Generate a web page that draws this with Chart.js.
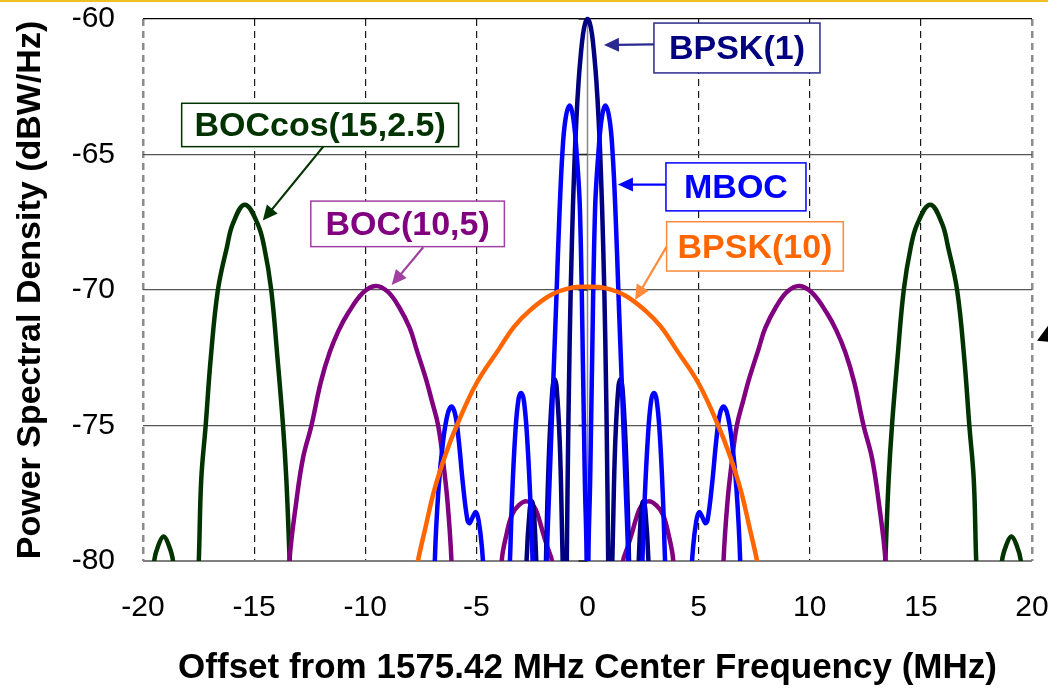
<!DOCTYPE html>
<html>
<head>
<meta charset="utf-8">
<script src="https://cdn.jsdelivr.net/npm/chart.js@4.4.1/dist/chart.umd.min.js"></script>
<style>
  html, body { margin: 0; padding: 0; background: #fff; overflow: hidden; }
  #wrap { position: relative; width: 1048px; height: 692px; }
</style>
</head>
<body>
<div id="wrap"><canvas id="psdChart"></canvas></div>
<script>
// Frequency offsets (MHz) and PSD values (dBW/Hz)
var bpsk1Freq = [-2.95, -2.75, -2.6, -2.5, -2.4, -2.25, -2.12, -2.05, -1.97, -1.88, -1.75, -1.6, -1.5, -1.4, -1.25, -1.15, -1.08, -1.02, -0.95, -0.9, -0.8, -0.7, -0.6, -0.5, -0.4, -0.3, -0.2, -0.1, 0,
    0.1, 0.2, 0.3, 0.4, 0.5, 0.6, 0.7, 0.8, 0.9, 0.95, 1.02, 1.08, 1.15, 1.25, 1.4, 1.5, 1.6, 1.75, 1.88, 1.97, 2.05, 2.12, 2.25, 2.4, 2.5, 2.6, 2.75, 2.95];
var bpsk1Psd = [-88, -80.2, -78.1, -77.8, -78.3, -81.5, -88, -95, -86, -80.5, -76.4, -73.9, -73.3, -73.5, -75.6, -78.8, -82, -95, -82.3, -77.5, -71.8, -68.2, -65.6, -63.7, -62.3, -61.3, -60.55, -60.14, -60,
    -60.14, -60.55, -61.3, -62.3, -63.7, -65.6, -68.2, -71.8, -77.5, -82.3, -95, -82, -78.8, -75.6, -73.5, -73.3, -73.9, -76.4, -80.5, -86, -95, -88, -81.5, -78.3, -77.8, -78.1, -80.2, -88];

var mbocFreq = [-7.1, -6.87, -6.7, -6.5, -6.3, -6.12, -5.95, -5.8, -5.6, -5.4, -5.3, -5.15, -5.02, -4.9, -4.75, -4.6, -4.3, -4.1, -3.85, -3.6, -3.49, -3.4, -3.25, -3.1, -2.98, -2.86, -2.72, -2.58, -2.47, -2.35, -2.1, -1.9, -1.84, -1.7, -1.55, -1.4, -1.26, -1.13, -1.0, -0.82, -0.65, -0.49, -0.34, -0.19, -0.12, -0.04, 0,
    0.04, 0.12, 0.19, 0.34, 0.49, 0.65, 0.82, 1.0, 1.13, 1.26, 1.4, 1.55, 1.7, 1.84, 1.9, 2.1, 2.35, 2.47, 2.58, 2.72, 2.86, 2.98, 3.1, 3.25, 3.4, 3.49, 3.6, 3.85, 4.1, 4.3, 4.6, 4.75, 4.9, 5.02, 5.15, 5.3, 5.4, 5.6, 5.8, 5.95, 6.12, 6.3, 6.5, 6.7, 6.87, 7.1];
var mbocPsd = [-88, -80, -77.3, -75.6, -74.6, -74.3, -74.6, -75.5, -77.2, -78.5, -78.6, -78.35, -78.2, -78.5, -79.5, -81.5, -88, -95, -88, -82, -80, -77.8, -75.3, -74.0, -73.8, -74.1, -75.4, -77.6, -80, -84, -95, -82, -80, -76.9, -73.6, -70.3, -67.15, -64.95, -63.75, -63.2, -63.6, -64.95, -67.05, -73.5, -77, -80, -92,
    -80, -77, -73.5, -67.05, -64.95, -63.6, -63.2, -63.75, -64.95, -67.15, -70.3, -73.6, -76.9, -80, -82, -95, -84, -80, -77.6, -75.4, -74.1, -73.8, -74.0, -75.3, -77.8, -80, -82, -88, -95, -88, -81.5, -79.5, -78.5, -78.2, -78.35, -78.6, -78.5, -77.2, -75.5, -74.6, -74.3, -74.6, -75.6, -77.3, -80, -88];

var boc105Freq = [-14.0, -13.41, -13.1, -12.8, -12.42, -12.0, -11.6, -11.2, -10.77, -10.1, -9.53, -9.0, -8.5, -8.0, -7.69, -7.3, -7.0, -6.72, -6.5, -6.3, -6.12, -5.9, -5.0, -4.1, -3.86, -3.64, -3.4, -3.1, -2.74, -2.4, -2.2, -1.99, -1.8, -1.6, -1.4, 0,
    1.4, 1.6, 1.8, 1.99, 2.2, 2.4, 2.74, 3.1, 3.4, 3.64, 3.86, 4.1, 5.0, 5.9, 6.12, 6.3, 6.5, 6.72, 7.0, 7.3, 7.69, 8.0, 8.5, 9.0, 9.53, 10.1, 10.77, 11.2, 11.6, 12.0, 12.42, 12.8, 13.1, 13.41, 14.0];
var boc105Psd = [-88, -80, -77.8, -76.2, -75.0, -73.4, -72.3, -71.5, -70.85, -70.1, -69.85, -70.05, -70.6, -71.4, -72.2, -73.2, -74.1, -75.0, -76.3, -77.8, -80, -85, -95, -84, -80, -79, -78.3, -77.95, -77.8, -78.0, -78.4, -79, -79.5, -80, -82, -90,
    -82, -80, -79.5, -79, -78.4, -78.0, -77.8, -77.95, -78.3, -79, -80, -84, -95, -85, -80, -77.8, -76.3, -75.0, -74.1, -73.2, -72.2, -71.4, -70.6, -70.05, -69.85, -70.1, -70.85, -71.5, -72.3, -73.4, -75.0, -76.2, -77.8, -80, -88];

var boccosFreq = [-20, -19.7, -19.5, -19.3, -19.07, -18.85, -18.65, -18.4, -18.0, -17.7, -17.49, -17.38, -17.18, -16.95, -16.63, -16.22, -15.95, -15.42, -14.85, -14.55, -14.23, -13.95, -13.7, -13.55, -13.4, -13.1, -12.5,
    12.5, 13.1, 13.4, 13.55, 13.7, 13.95, 14.23, 14.55, 14.85, 15.42, 15.95, 16.22, 16.63, 16.95, 17.18, 17.38, 17.49, 17.7, 18.0, 18.4, 18.65, 18.85, 19.07, 19.3, 19.5, 19.7, 20];
var boccosPsd = [-86, -82, -80, -79.4, -79.1, -79.4, -80, -83, -92, -84, -80, -77.0, -75.0, -72.5, -70.0, -68.4, -67.54, -66.85, -67.54, -68.4, -70.0, -72.5, -75.0, -77.0, -80, -86, -95,
    -95, -86, -80, -77.0, -75.0, -72.5, -70.0, -68.4, -67.54, -66.85, -67.54, -68.4, -70.0, -72.5, -75.0, -77.0, -80, -84, -92, -83, -80, -79.4, -79.1, -79.4, -80, -82, -86];

var bpsk10Freq = [-8.2, -7.63, -7.3, -6.9, -6.4, -5.88, -5.0, -4.0, -3.3, -2.59, -1.69, -0.8, 0, 0.8, 1.69, 2.59, 3.3, 4.0, 5.0, 5.88, 6.4, 6.9, 7.3, 7.63, 8.2];
var bpsk10Psd = [-82.5, -80, -78.8, -77.4, -76.1, -75, -73.45, -72.2, -71.35, -70.75, -70.2, -69.93, -69.88, -69.93, -70.2, -70.75, -71.35, -72.2, -73.45, -75, -76.1, -77.4, -78.8, -80, -82.5];

var seriesNames = ['BPSK(10)', 'MBOC', 'BPSK(1)', 'BOC(10,5)', 'BOCcos(15,2.5)'];
var freqTicks = [-20, -15, -10, -5, 0, 5, 10, 15, 20];
var psdTicks = [-80, -75, -70, -65, -60];

var FONT = "'Liberation Sans', Arial, sans-serif";

// juntar freq + psd em pontos {x, y}
function toPoints(freq, psd) {
    var pts = [];
    for (var i = 0; i < freq.length; i++) {
        pts.push({ x: freq[i], y: psd[i] });
    }
    return pts;
}

function makeSeries(name, freq, psd, color) {
    return {
        label: name,
        data: toPoints(freq, psd),
        borderColor: color,
        backgroundColor: color,
        borderWidth: 4.5,
        pointRadius: 0,
        fill: false,
        tension: 0.4,
        clip: { left: 0, right: 0, bottom: 0, top: 6 }
    };
}

// boxed labels with arrows, placed in data units (MHz, dBW/Hz)
var callouts = [
    { name: 'BPSK(1)', text: '#000080', edge: '#2a2a90', box: [2.99, 10.46, -60.15, -61.99], from: [2.99, -60.94], tip: [0.74, -60.96] },
    { name: 'MBOC', text: '#0000ff', edge: '#0000ff', box: [3.53, 9.83, -65.31, -67.08], from: [3.53, -66.11], tip: [1.37, -66.11] },
    { name: 'BPSK(10)', text: '#ff6600', edge: '#ff8a3d', box: [3.56, 11.51, -67.48, -69.30], from: [3.56, -68.40], tip: [2.14, -70.37] },
    { name: 'BOC(10,5)', text: '#800080', edge: '#a040a0', box: [-12.45, -3.74, -66.72, -68.40], from: [-7.39, -68.42], tip: [-8.81, -69.82] },
    { name: 'BOCcos(15,2.5)', text: '#003300', edge: '#003300', box: [-18.26, -5.80, -63.11, -64.71], from: [-11.89, -64.71], tip: [-14.61, -67.44] }
];

function drawArrow(ctx, x1, y1, x2, y2, color) {
    var ang = Math.atan2(y2 - y1, x2 - x1);
    var len = 15, half = 7;
    ctx.strokeStyle = color;
    ctx.fillStyle = color;
    ctx.lineWidth = 2.2;
    ctx.beginPath();
    ctx.moveTo(x1, y1);
    ctx.lineTo(x2 - Math.cos(ang) * len * 0.8, y2 - Math.sin(ang) * len * 0.8);
    ctx.stroke();
    ctx.beginPath();
    ctx.moveTo(x2, y2);
    ctx.lineTo(x2 - Math.cos(ang) * len + Math.sin(ang) * half, y2 - Math.sin(ang) * len - Math.cos(ang) * half);
    ctx.lineTo(x2 - Math.cos(ang) * len - Math.sin(ang) * half, y2 - Math.sin(ang) * len + Math.cos(ang) * half);
    ctx.closePath();
    ctx.fill();
}

var decorPlugin = {
    id: 'decor',
    beforeDatasetsDraw: function (chart) {
        var ctx = chart.ctx, xs = chart.scales.x, ys = chart.scales.y;
        var x0 = xs.getPixelForValue(0);
        ctx.save();
        // eixo vertical em 0 MHz
        ctx.strokeStyle = '#8a8a8a';
        ctx.lineWidth = 1.5;
        ctx.beginPath();
        ctx.moveTo(x0, chart.chartArea.top);
        ctx.lineTo(x0, chart.chartArea.bottom);
        ctx.stroke();
        ctx.strokeStyle = '#222';
        ctx.lineWidth = 1.5;
        psdTicks.forEach(function (v) {
            var y = ys.getPixelForValue(v);
            ctx.beginPath();
            ctx.moveTo(x0 - 9, y);
            ctx.lineTo(x0, y);
            ctx.stroke();
        });
        ctx.restore();
    },
    afterDraw: function (chart) {
        var ctx = chart.ctx, xs = chart.scales.x, ys = chart.scales.y;
        ctx.save();
        callouts.forEach(function (c) {
            var bx0 = xs.getPixelForValue(c.box[0]), bx1 = xs.getPixelForValue(c.box[1]);
            var by0 = ys.getPixelForValue(c.box[2]), by1 = ys.getPixelForValue(c.box[3]);
            drawArrow(ctx, xs.getPixelForValue(c.from[0]), ys.getPixelForValue(c.from[1]),
                xs.getPixelForValue(c.tip[0]), ys.getPixelForValue(c.tip[1]), c.edge);
            ctx.fillStyle = '#fff';
            ctx.fillRect(bx0, by0, bx1 - bx0, by1 - by0);
            ctx.strokeStyle = c.edge;
            ctx.lineWidth = 1.5;
            ctx.strokeRect(bx0, by0, bx1 - bx0, by1 - by0);
            ctx.fillStyle = c.text;
            ctx.font = 'bold 34px ' + FONT;
            ctx.textAlign = 'center';
            ctx.textBaseline = 'middle';
            ctx.fillText(c.name, (bx0 + bx1) / 2, (by0 + by1) / 2 + 2);
        });
        // linha dourada no topo e ponta de seta cortada na direita
        ctx.fillStyle = '#f0c020';
        ctx.fillRect(0, 0, chart.width, 2);
        var r = chart.chartArea.right;
        var yArr = ys.getPixelForValue(-71.8);
        ctx.fillStyle = '#000';
        ctx.beginPath();
        ctx.moveTo(r + 5, yArr + 2);
        ctx.lineTo(r + 16, yArr - 13);
        ctx.lineTo(r + 16, yArr + 3);
        ctx.closePath();
        ctx.fill();
        ctx.restore();
    }
};

var ctx = document.getElementById('psdChart').getContext('2d');
var myChart = new Chart(ctx, {
    type: 'line',
    data: {
        datasets: [
            makeSeries(seriesNames[0], bpsk10Freq, bpsk10Psd, '#ff6600'),
            makeSeries(seriesNames[1], mbocFreq, mbocPsd, '#0000ff'),
            makeSeries(seriesNames[2], bpsk1Freq, bpsk1Psd, '#000080'),
            makeSeries(seriesNames[3], boc105Freq, boc105Psd, '#800080'),
            makeSeries(seriesNames[4], boccosFreq, boccosPsd, '#003300')
        ]
    },
    options: {
        responsive: true,
        maintainAspectRatio: false,
        animation: false,
        layout: { padding: { top: 19, right: 16, bottom: 0, left: 0 } },
        plugins: {
            legend: { display: false },
            tooltip: { enabled: false }
        },
        scales: {
            x: {
                type: 'linear',
                min: -20,
                max: 20,
                afterBuildTicks: function (scale) {
                    scale.ticks = freqTicks.map(function (v) { return { value: v }; });
                },
                afterFit: function (scale) {
                    scale.height = 131;
                    scale.paddingLeft = 0;
                    scale.paddingRight = 0;
                },
                ticks: {
                    color: '#000',
                    padding: 29,
                    maxRotation: 0,
                    font: { family: FONT, size: 30 },
                    callback: function (v) { return String(v); }
                },
                grid: {
                    drawTicks: false,
                    color: function (c) {
                        var v = c.tick && c.tick.value;
                        if (v === 0) return 'rgba(0,0,0,0)';
                        if (v === -20 || v === 20) return '#8c8c8c';
                        return '#1a1a1a';
                    },
                    lineWidth: function (c) {
                        var v = c.tick && c.tick.value;
                        return (v === -20 || v === 20) ? 2.5 : 1.2;
                    }
                },
                border: { display: false, dash: [7, 5] },
                title: {
                    display: true,
                    text: 'Offset from 1575.42 MHz Center Frequency (MHz)',
                    color: '#000',
                    font: { family: FONT, size: 35, weight: 'bold' },
                    padding: { top: 0, bottom: 3 }
                }
            },
            y: {
                min: -80,
                max: -60,
                afterBuildTicks: function (scale) {
                    scale.ticks = psdTicks.map(function (v) { return { value: v }; });
                },
                afterFit: function (scale) {
                    scale.width = 143;
                    scale.paddingTop = 0;
                    scale.paddingBottom = 0;
                },
                ticks: {
                    color: '#000',
                    padding: 28,
                    font: { family: FONT, size: 30 },
                    callback: function (v) { return String(v); }
                },
                grid: {
                    drawTicks: false,
                    color: function (c) {
                        var v = c.tick && c.tick.value;
                        if (v === -60) return '#000';
                        if (v === -80) return '#808080';
                        return '#555';
                    },
                    lineWidth: function (c) {
                        var v = c.tick && c.tick.value;
                        if (v === -80) return 2;
                        return 1.3;
                    }
                },
                border: { display: false },
                title: {
                    display: true,
                    text: 'Power Spectral Density (dBW/Hz)',
                    color: '#000',
                    font: { family: FONT, size: 34, weight: 'bold' },
                    padding: { top: 10, bottom: 0 }
                }
            }
        }
    },
    plugins: [decorPlugin]
});
</script>
</body>
</html>
